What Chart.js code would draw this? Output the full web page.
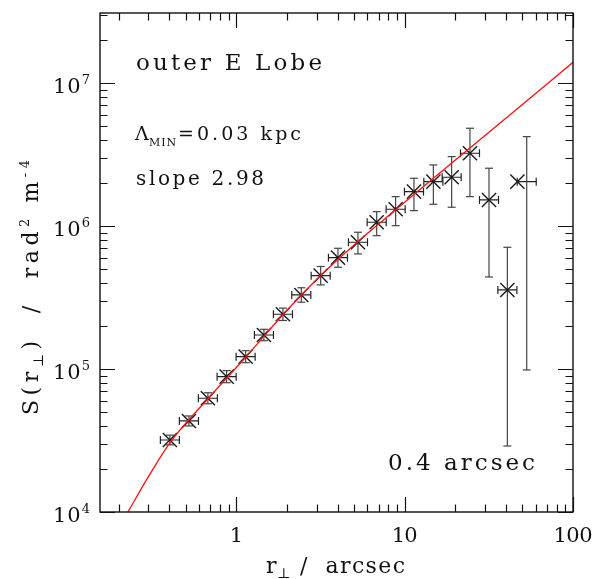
<!DOCTYPE html>
<html>
<head>
<meta charset="utf-8">
<script src="https://cdn.jsdelivr.net/npm/chart.js@4"></script>
<style>
  html, body { margin: 0; padding: 0; background: #fff; }
  canvas { display: block; }
</style>
</head>
<body>
<canvas id="sfChart" width="598" height="579"></canvas>
<script>
// bin centres (arcsec) and structure function values (rad^2 m^-4)
const rBin = [0.403, 0.523, 0.678, 0.876, 1.136, 1.459, 1.892, 2.433, 3.17, 4.016,
  5.28, 6.82, 8.84, 11.36, 14.81, 19.02, 24.43, 31.7, 40.75, 53.1];
const rMark = [0.403, 0.523, 0.678, 0.876, 1.136, 1.459, 1.892, 2.433, 3.17, 4.016,
  5.28, 6.82, 8.84, 11.36, 14.81, 19.02, 24.43, 31.7, 40.75, 46.74];
const rLo = [0.354, 0.459, 0.595, 0.769, 0.997, 1.281, 1.661, 2.136, 2.783, 3.526,
  4.636, 5.988, 7.761, 9.974, 13.0, 16.7, 21.45, 27.83, 35.78, 46.62];
const rHi = [0.459, 0.596, 0.772, 0.998, 1.294, 1.662, 2.155, 2.771, 3.611, 4.574,
  6.014, 7.768, 10.07, 12.94, 16.87, 21.66, 27.83, 36.11, 46.41, 60.48];
const sVal = [31900, 43350, 62500, 88500, 122100, 173200, 241800, 330000, 450300, 602000,
  771500, 1065000, 1313000, 1743000, 2048000, 2199000, 3237000, 1525000, 357700, 2048000];
const sLo = [29500, 40000, 57200, 80300, 110800, 158000, 218800, 293900, 388200, 515800,
  639000, 858000, 1008000, 1284000, 1423000, 1356000, 1609000, 441000, 28960, 98600];
const sHi = [34500, 47000, 68300, 97500, 134500, 189800, 267200, 370600, 522300, 700200,
  906600, 1263000, 1609000, 2164000, 2681000, 3065000, 4843000, 2543000, 711700, 4229000];

// model curve
const fitR = [0.227, 0.30, 0.403, 0.678, 1.136, 1.892, 3.17, 5.28, 8.84, 14.81, 24.43, 100];
const fitS = [10000, 17600, 30500, 62000, 121000, 240000, 452000, 780000, 1300000, 2160000, 3520000, 14000000];

// axis ticks
const xMajor = [1, 10, 100];
const xLabels = ["1", "10", "100"];
const yMajor = [1e4, 1e5, 1e6, 1e7];
const yExp = ["4", "5", "6", "7"];

const FONT = '"DejaVu Serif", "Liberation Serif", serif';

// draw text parts spread to a given width
function rich(ctx, parts, x, y, width, align) {
  let sum = 0, n = 0;
  parts.forEach(p => {
    ctx.font = p.size + "px " + FONT;
    ctx.letterSpacing = "0px";
    p.w = ctx.measureText(p.t).width;
    p.n = [...p.t].length;
    sum += p.w;
    n += p.n;
  });
  const ls = (n > 1 && width) ? (width - sum) / (n - 1) : 0;
  const total = sum + ls * (n - 1);
  let cx = align === "center" ? x - total / 2 : align === "right" ? x - total : x;
  ctx.textAlign = "left";
  ctx.textBaseline = "alphabetic";
  parts.forEach(p => {
    ctx.font = p.size + "px " + FONT;
    ctx.letterSpacing = ls + "px";
    ctx.fillText(p.t, cx, y + (p.dy || 0));
    cx += p.w + ls * p.n;
  });
  ctx.letterSpacing = "0px";
}

const framePlugin = {
  id: "frame",
  afterDraw(chart) {
    const ctx = chart.ctx;
    const { left, right, top, bottom } = chart.chartArea;
    const xs = chart.scales.x, ys = chart.scales.y;
    ctx.save();
    ctx.strokeStyle = "#111";
    ctx.lineWidth = 1.4;
    ctx.strokeRect(left, top, right - left, bottom - top);

    ctx.lineWidth = 1.2;
    ctx.beginPath();
    for (let d = 0.1; d <= 100; d *= 10) {
      for (let m = 1; m <= 9; m++) {
        const v = m * d;
        if (v < xs.min || v > xs.max * 1.0001) continue;
        const px = Math.round(xs.getPixelForValue(v)) + 0.5;
        const len = m === 1 ? 15 : 7.5;
        ctx.moveTo(px, bottom); ctx.lineTo(px, bottom - len);
        ctx.moveTo(px, top); ctx.lineTo(px, top + len);
      }
    }
    for (let d = 1e4; d <= 1e7; d *= 10) {
      for (let m = 1; m <= 9; m++) {
        const v = m * d;
        if (v < ys.min * 0.9999 || v > ys.max) continue;
        const py = Math.round(ys.getPixelForValue(v)) + 0.5;
        const len = m === 1 ? 15 : 7.5;
        ctx.moveTo(left, py); ctx.lineTo(left + len, py);
        ctx.moveTo(right, py); ctx.lineTo(right - len, py);
      }
    }
    ctx.stroke();

    ctx.fillStyle = "#111";
    // x tick labels
    xMajor.forEach((v, i) => {
      rich(ctx, [{ t: xLabels[i], size: 21 }], xs.getPixelForValue(v), 542, xLabels[i].length * 13, "center");
    });
    // y tick labels
    yMajor.forEach((v, i) => {
      const py = ys.getPixelForValue(v);
      rich(ctx, [{ t: "10", size: 21 }, { t: yExp[i], size: 13, dy: -9 }], 90, py + 10, 37, "right");
    });

    // axis titles
    rich(ctx, [{ t: "r", size: 22 }], 266, 573, 0, "left");
    rich(ctx, [{ t: "\u22A5", size: 14 }], 277, 578, 0, "left");
    rich(ctx, [{ t: "/  arcsec", size: 22 }], 300, 573, 105, "left");

    ctx.save();
    ctx.translate(38, 415);
    ctx.rotate(-Math.PI / 2);
    rich(ctx, [
      { t: "S(r", size: 22 }, { t: "\u22A5", size: 14, dy: 5 }, { t: ")  /  rad", size: 22 },
      { t: "2", size: 13, dy: -9 }, { t: " m", size: 22 }, { t: "-4", size: 13, dy: -9 }
    ], 0, 0, 255, "left");
    ctx.restore();

    // annotations
    rich(ctx, [{ t: "outer E Lobe", size: 23 }], 136, 70, 186, "left");
    rich(ctx, [{ t: "\u039B", size: 19 }], 135, 140, 0, "left");
    rich(ctx, [{ t: "MIN", size: 11 }], 149, 146, 27, "left");
    rich(ctx, [{ t: "=0.03 kpc", size: 19 }], 178, 140, 123, "left");
    rich(ctx, [{ t: "slope 2.98", size: 20 }], 136, 185, 128, "left");
    rich(ctx, [{ t: "0.4 arcsec", size: 23 }], 388, 470, 147, "left");
    ctx.restore();
  }
};

// error bar segments, separated by gaps
const vBars = [], hBars = [];
rBin.forEach((r, i) => {
  vBars.push({ x: r, y: sLo[i] }, { x: r, y: sHi[i] }, { x: r, y: null });
  hBars.push({ x: rLo[i], y: sVal[i] }, { x: rHi[i], y: sVal[i] }, { x: rHi[i], y: null });
});

new Chart(document.getElementById("sfChart"), {
  type: "scatter",
  data: {
    datasets: [
      {
        label: "model",
        type: "line",
        data: fitR.map((r, i) => ({ x: r, y: fitS[i] })),
        borderColor: "#ff1010",
        borderWidth: 1.3,
        pointRadius: 0,
        cubicInterpolationMode: "monotone",
        order: 0,
      },
      {
        label: "S",
        data: rMark.map((r, i) => ({ x: r, y: sVal[i] })),
        pointStyle: "crossRot",
        pointRadius: 10,
        borderColor: "#1a1a1a",
        borderWidth: 1.4,
        order: 1,
      },
      {
        label: "vertical bars",
        type: "line",
        data: vBars,
        spanGaps: false,
        borderColor: "#444",
        borderWidth: 1.2,
        pointStyle: "line",
        pointRadius: 4,
        pointBorderColor: "#444",
        pointBorderWidth: 1.2,
        order: 2,
      },
      {
        label: "horizontal bars",
        type: "line",
        data: hBars,
        spanGaps: false,
        borderColor: "#222",
        borderWidth: 1.2,
        pointStyle: "line",
        pointRotation: 90,
        pointRadius: 4,
        pointBorderColor: "#222",
        pointBorderWidth: 1.2,
        order: 2,
      },
    ],
  },
  options: {
    responsive: false,
    animation: false,
    devicePixelRatio: 1,
    layout: { padding: { left: 100, top: 13, right: 25, bottom: 67 } },
    plugins: { legend: { display: false }, tooltip: { enabled: false } },
    scales: {
      x: {
        type: "logarithmic", min: 0.155, max: 100,
        ticks: { display: false },
        grid: { display: false, drawTicks: false },
        border: { display: false },
      },
      y: {
        type: "logarithmic", min: 1e4, max: 3.1e7,
        ticks: { display: false },
        grid: { display: false, drawTicks: false },
        border: { display: false },
      },
    },
  },
  plugins: [framePlugin],
});
</script>
</body>
</html>
